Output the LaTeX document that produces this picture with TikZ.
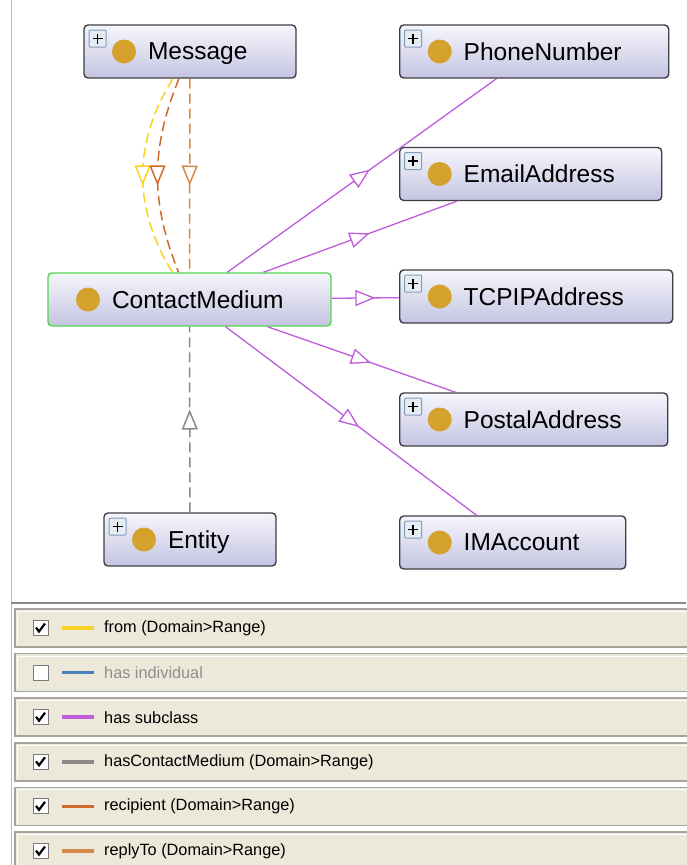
\documentclass[tikz,border=0pt]{standalone}
\usepackage{fontspec}
\setmainfont{Liberation Sans}
\usepackage{xcolor}
\usepackage{tikz}
\usetikzlibrary{arrows.meta,decorations.markings,positioning}
\definecolor{GraphPurple}{HTML}{C05CDA}
\definecolor{GraphGray}{HTML}{8A8A8A}
\definecolor{FromYellow}{HTML}{F8D224}
\definecolor{IndivBlue}{HTML}{4A80B8}
\definecolor{RecipOrange}{HTML}{D2692C}
\definecolor{ReplyOrange}{HTML}{D48A48}
\definecolor{ClassTop}{HTML}{F6F6FC}
\definecolor{ClassBottom}{HTML}{C4C4E2}
\definecolor{ClassEdge}{HTML}{3E3E44}
\definecolor{ClassDot}{HTML}{D4A22C}
\definecolor{FocusGreen}{HTML}{52D652}
\definecolor{PlusEdge}{HTML}{7E9EBE}
\definecolor{PlusFill}{HTML}{E6ECF2}
\definecolor{LegendFill}{HTML}{ECE9DA}
\definecolor{LegendEdge}{HTML}{A4A49C}
\definecolor{LegendMuted}{HTML}{8E8E8E}
\definecolor{CheckEdge}{HTML}{7A7A7A}

\newcommand\classdot{\fill[ClassDot] ([xshift=40]path picture bounding box.west) circle (12);}
\newcommand\classplus{%
  \draw[PlusEdge,fill=PlusFill,line width=1pt,rounded corners=1pt]
    ([shift={(5,5)}]path picture bounding box.north west) rectangle ++(17,17);
  \draw[black,line width=1.8pt]
    ([shift={(8.5,13.5)}]path picture bounding box.north west) -- ++(10,0)
    ([shift={(13.5,8.5)}]path picture bounding box.north west) -- ++(0,10);}
\newcommand\classname[1]{\hspace*{64pt}#1}

\begin{document}
\begin{tikzpicture}[x=1pt,y=-1pt,>=Latex,
  cls/.style={draw=ClassEdge,line width=1.4pt,rounded corners=4pt,
    top color=ClassTop,bottom color=ClassBottom,minimum height=53pt,
    text width=#1,text depth=0pt,inner xsep=0pt,inner ysep=0pt,align=left,
    font=\fontsize{24.5}{28}\selectfont,path picture={\classdot\classplus}},
  focus/.style={cls=#1,draw=FocusGreen,path picture={\classdot}},
  midtri/.style={postaction={decorate,decoration={markings,
    mark=at position 0.5 with {\arrow[xshift=10pt]{Triangle[length=20pt,width=16pt,fill=white]}}}}},
  subedge/.style={GraphPurple,line width=1.3pt,midtri},
  propedge/.style={#1,line width=1.5pt,dash pattern=on 10pt off 5pt,midtri},
  legendtext/.style={anchor=west,inner sep=0pt,font=\fontsize{16.3}{19}\selectfont},
  checkbox/.style={draw=CheckEdge,fill=white,line width=1pt,minimum size=15pt,inner sep=0pt}]

  \useasboundingbox (0,0) rectangle (686,865);
  \fill[white] (0,0) rectangle (686,865);

  % class boxes
  \node[cls=212pt] (msg) at (190,51.5) {\classname{Message}};
  \node[cls=269pt,anchor=west] (phone) at (399,51.5) {\classname{PhoneNumber}};
  \node[cls=262pt,anchor=west] (email) at (399,174) {\classname{EmailAddress}};
  \node[focus=283pt] (cm) at (189.5,299.5) {\classname{ContactMedium}};
  \node[cls=273pt,anchor=west] (tcpip) at (399,296.5) {\classname{TCPIPAddress}};
  \node[cls=268pt,anchor=west] (postal) at (399,419.5) {\classname{PostalAddress}};
  \node[cls=172pt] (entity) at (190,539.5) {\classname{Entity}};
  \node[cls=226pt,anchor=west] (imacc) at (399,542.5) {\classname{IMAccount}};

  % has subclass
  \foreach \sub in {phone,email,tcpip,postal,imacc}
    \draw[subedge] (cm) -- (\sub);

  % properties
  \draw[propedge=FromYellow] (msg) to[bend right=32] (cm);
  \draw[propedge=RecipOrange] (msg) to[bend right=22] (cm);
  \draw[propedge=ReplyOrange] (msg) -- (cm);
  \draw[propedge=GraphGray] (entity) -- (cm);

  % legend
  \draw[GraphGray!60,line width=1pt] (11,0) -- (11,865);
  \draw[GraphGray,line width=1.5pt] (11,603) -- (686,603);
  \foreach \col/\txt/\tcol/\tick [count=\i from 0] in {
      FromYellow/{from (Domain>Range)}/black/1,
      IndivBlue/{has individual}/LegendMuted/0,
      GraphPurple/{has subclass}/black/1,
      GraphGray/{hasContactMedium (Domain>Range)}/black/1,
      RecipOrange/{recipient (Domain>Range)}/black/1,
      ReplyOrange/{replyTo (Domain>Range)}/black/1} {
    \pgfmathsetmacro\ry{628+44.6*\i}
    \fill[LegendFill] (15,\ry-19) rectangle (700,\ry+19);
    \draw[LegendEdge,line width=1.5pt] (15,\ry-19) rectangle (700,\ry+19);
    \draw[white,line width=1pt] (17.5,\ry+16.5) -- (17.5,\ry-16.5) -- (700,\ry-16.5);
    \node[checkbox] (box\i) at (40.5,\ry) {};
    \ifnum\tick=1
      \draw[line width=2.2pt] ([shift={(-4.5,-0.5)}]box\i.center) -- ([shift={(-1.5,3.5)}]box\i.center)
        -- ([shift={(4.5,-4.5)}]box\i.center);
    \fi
    \draw[\col,line width=3.5pt] (62,\ry) -- (94,\ry);
    \node[legendtext,text=\tcol] (key\i) at (104,\ry) {\txt};
  }
\end{tikzpicture}
\end{document}
